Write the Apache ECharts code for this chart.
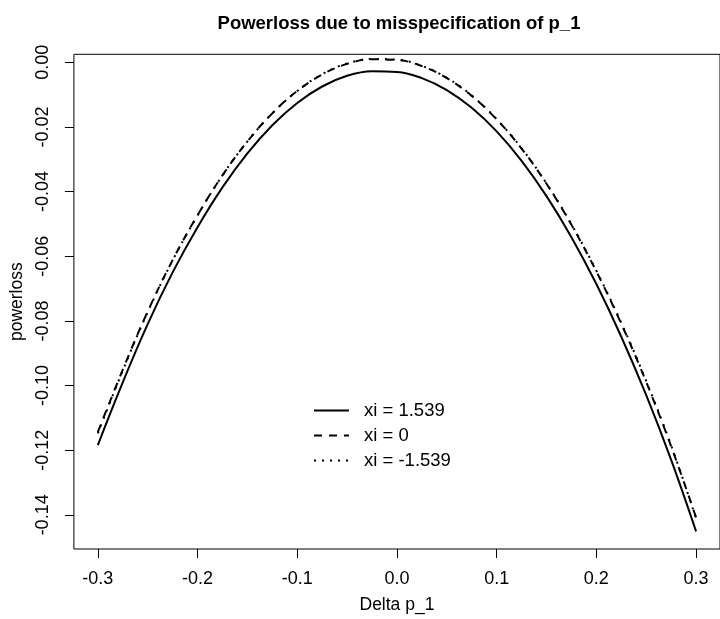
<!DOCTYPE html>
<html>
<head>
<meta charset="utf-8">
<script src="https://cdn.jsdelivr.net/npm/echarts@6/dist/echarts.min.js"></script>
<style>html,body{margin:0;padding:0;background:#fff;}#c{width:720px;height:619px;}</style>
</head>
<body>
<div id="c"></div>
<script>
const xVals = [-0.3,-0.275,-0.25,-0.225,-0.2,-0.175,-0.15,-0.125,-0.1,-0.075,-0.05,-0.025,0,0.025,0.05,0.075,0.1,0.125,0.15,0.175,0.2,0.225,0.25,0.275,0.3];
const solidVals = [-0.1184,-0.0990,-0.0810,-0.0650,-0.0510,-0.0387,-0.0282,-0.0195,-0.0126,-0.0075,-0.0042,-0.0028,-0.0030,-0.0049,-0.0086,-0.0141,-0.0214,-0.0305,-0.0414,-0.0541,-0.0686,-0.0849,-0.1030,-0.1230,-0.1451];
const dashedVals = [-0.1144,-0.0951,-0.0771,-0.0612,-0.0473,-0.0350,-0.0245,-0.0158,-0.0089,-0.0038,-0.0005,0.0009,0.0007,-0.0012,-0.0049,-0.0104,-0.0177,-0.0267,-0.0376,-0.0503,-0.0647,-0.0809,-0.0989,-0.1188,-0.1408];
const dottedVals = [-0.1148,-0.0954,-0.0773,-0.0613,-0.0474,-0.0350,-0.0245,-0.0158,-0.0089,-0.0037,-0.0004,0.0010,0.0008,-0.0011,-0.0048,-0.0103,-0.0176,-0.0266,-0.0375,-0.0501,-0.0645,-0.0806,-0.0986,-0.1185,-0.1411];
const seriesNames = ['xi = 1.539','xi = 0','xi = -1.539'];
const xTicks = [-0.3,-0.2,-0.1,0,0.1,0.2,0.3];
const yTicks = [0,-0.02,-0.04,-0.06,-0.08,-0.10,-0.12,-0.14];

const FONT = '"Liberation Sans", Arial, sans-serif';
const pair = ys => xVals.map((x,i)=>[x, ys[i]]);
const chart = echarts.init(document.getElementById('c'), null, {renderer:'canvas'});
const mk = (name, ys, type) => ({
  name, type:'line', data: pair(ys), symbol:'none', smooth:0.4,
  lineStyle:{color:'#000', width:2, type}, itemStyle:{color:'#000'}, z: 3
});
chart.setOption({
  backgroundColor:'#fff',
  animation:false,
  title:{text:'Powerloss due to misspecification of p_1', left:394, top:9, textAlign:'center',
    textStyle:{fontFamily:FONT, fontWeight:'bold', fontSize:18.5, color:'#000'}},
  grid:{left:71.7, top:54.3, right:-4, bottom:66.3, show:true, borderColor:'#000', borderWidth:1, containLabel:false},
  xAxis:{type:'value', min:-0.324, max:0.324,
    name:'Delta p_1', nameLocation:'middle', nameGap:47,
    nameTextStyle:{fontFamily:FONT, fontSize:17.5, color:'#000'},
    axisLine:{show:false, onZero:false}, splitLine:{show:false},
    axisTick:{show:true, customValues:xTicks, length:9, lineStyle:{color:'#000'}},
    axisLabel:{customValues:xTicks, margin:21, fontFamily:FONT, fontSize:18, color:'#000', formatter:v=>v.toFixed(1)}},
  yAxis:{type:'value', min:-0.15056, max:0.00246,
    name:'powerloss', nameLocation:'middle', nameGap:42, nameRotate:90,
    nameTextStyle:{fontFamily:FONT, fontSize:17.5, color:'#000'},
    axisLine:{show:false, onZero:false}, splitLine:{show:false},
    axisTick:{show:true, customValues:yTicks, length:9, lineStyle:{color:'#000'}},
    axisLabel:{customValues:yTicks, rotate:90, margin:22, fontFamily:FONT, fontSize:18, color:'#000', formatter:v=>v.toFixed(2)}},
  legend:{orient:'vertical', left:308, top:396, itemWidth:35, itemHeight:14, itemGap:6,
    data:seriesNames, selectedMode:false,
    itemStyle:{opacity:0},
    textStyle:{fontFamily:FONT, fontSize:18.5, color:'#000', padding:[0,0,0,10]}},
  series:[mk(seriesNames[0], solidVals, 'solid'), mk(seriesNames[1], dashedVals, [8,7]), mk(seriesNames[2], dottedVals, [2,6])]
});
</script>
</body>
</html>
